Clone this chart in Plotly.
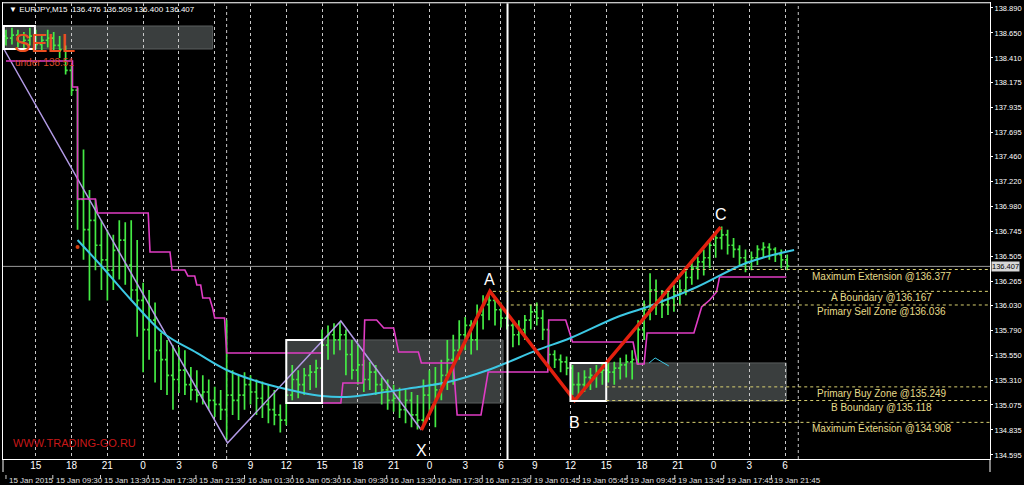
import plotly.graph_objects as go

# ---------------- DATA ----------------
# 30-minute bars (bar index in M15 units)
bar_i = list(range(0, 264, 2))
bar_hi = [138.68, 138.70, 138.68, 138.66, 138.70, 138.68, 138.64, 138.68, 138.66, 138.62,
          138.53, 138.34, 138.12, 137.53, 137.14, 137.05, 136.85, 136.76, 136.71, 136.85,
          136.83, 136.85, 136.66, 136.25, 136.18, 136.06, 135.77, 135.70, 135.65, 135.63,
          135.60, 135.44, 135.41, 135.36, 135.32, 135.25, 135.22, 135.89, 135.41, 135.36,
          135.39, 135.36, 135.32, 135.30, 135.27, 135.22, 135.08, 135.27, 135.46, 135.41,
          135.43, 135.46, 135.51, 135.80, 135.84, 135.86, 135.87, 135.80, 135.70, 135.65,
          135.51, 135.49, 135.46, 135.34, 135.32, 135.27, 135.24, 135.22, 135.20, 135.17,
          135.32, 135.41, 135.44, 135.51, 135.70, 135.75, 135.89, 135.92, 135.89, 136.04,
          136.13, 136.15, 136.10, 136.06, 135.99, 135.86, 135.89, 135.94, 136.04, 136.06,
          135.99, 135.80, 135.60, 135.56, 135.54, 135.46, 135.39, 135.41, 135.43, 135.46,
          135.48, 135.51, 135.49, 135.53, 135.56, 135.60, 135.89, 136.08, 136.34, 136.28,
          136.18, 136.20, 136.23, 136.28, 136.37, 136.47, 136.50, 136.57, 136.66, 136.74,
          136.79, 136.76, 136.68, 136.61, 136.57, 136.55, 136.61, 136.64, 136.63, 136.59,
          136.57, 136.52]
bar_lo = [138.53, 138.54, 138.51, 138.49, 138.53, 138.49, 138.47, 138.51, 138.47, 138.41,
          138.25, 138.05, 136.76, 136.47, 136.08, 136.37, 136.18, 136.08, 136.18, 136.28,
          136.23, 136.08, 135.73, 135.39, 135.51, 135.29, 135.22, 135.17, 135.03, 135.19,
          135.17, 135.12, 135.10, 135.08, 135.03, 134.96, 134.93, 134.74, 134.98, 134.93,
          135.03, 135.08, 134.98, 134.95, 134.90, 134.88, 134.81, 134.88, 135.12, 135.14,
          135.17, 135.22, 135.24, 135.41, 135.51, 135.56, 135.60, 135.36, 135.32, 135.27,
          135.20, 135.22, 135.17, 135.08, 135.03, 135.01, 134.95, 134.90, 134.86, 134.84,
          134.88, 134.98, 134.86, 135.12, 135.22, 135.27, 135.51, 135.60, 135.56, 135.60,
          135.80, 135.89, 135.84, 135.82, 135.80, 135.63, 135.65, 135.70, 135.80, 135.84,
          135.70, 135.41, 135.43, 135.39, 135.36, 135.17, 135.17, 135.20, 135.22, 135.24,
          135.27, 135.29, 135.27, 135.32, 135.34, 135.32, 135.46, 135.70, 135.89, 135.94,
          135.91, 135.94, 135.97, 136.04, 136.13, 136.23, 136.28, 136.32, 136.39, 136.49,
          136.57, 136.52, 136.49, 136.42, 136.35, 136.37, 136.42, 136.49, 136.47, 136.45,
          136.39, 136.37]
bar_cl = [138.60, 138.63, 138.56, 138.58, 138.62, 138.54, 138.58, 138.60, 138.53, 138.49,
          138.29, 138.10, 137.05, 136.76, 136.85, 136.61, 136.47, 136.37, 136.56, 136.66,
          136.42, 136.18, 136.08, 135.80, 135.89, 135.60, 135.51, 135.36, 135.32, 135.41,
          135.27, 135.22, 135.17, 135.20, 135.12, 135.08, 135.03, 135.17, 135.12, 135.17,
          135.27, 135.20, 135.14, 135.08, 135.03, 134.98, 134.93, 135.17, 135.32, 135.27,
          135.36, 135.39, 135.43, 135.65, 135.75, 135.70, 135.75, 135.56, 135.41, 135.46,
          135.32, 135.39, 135.27, 135.22, 135.12, 135.14, 135.03, 135.12, 134.98, 134.93,
          135.17, 135.27, 135.22, 135.36, 135.51, 135.60, 135.75, 135.84, 135.70, 135.94,
          136.04, 136.08, 135.99, 135.91, 135.84, 135.75, 135.80, 135.89, 135.97, 135.91,
          135.80, 135.56, 135.51, 135.49, 135.43, 135.27, 135.27, 135.34, 135.36, 135.39,
          135.41, 135.39, 135.43, 135.46, 135.49, 135.51, 135.80, 135.99, 136.18, 136.08,
          136.04, 136.10, 136.13, 136.18, 136.30, 136.39, 136.45, 136.49, 136.61, 136.68,
          136.71, 136.61, 136.57, 136.49, 136.45, 136.49, 136.57, 136.59, 136.57, 136.52,
          136.47, 136.41]
first_open = 138.62
last_price = 136.407

# XABC harmonic pattern
pat_labels = ["X", "A", "B", "C"]
pat_i = [139.3, 162.3, 190.7, 239.7]
pat_p = [134.835, 136.167, 135.118, 136.785]

# zigzag (purple)
zz_i = [-0.7, 74.3, 112.3, 139.3]
zz_p = [138.496, 134.710, 135.882, 134.835]

# magenta step indicator
mag_i = [0, 22.3, 22.3, 24, 24, 30, 30.7, 47.7, 48.3, 55, 55.7, 60, 61, 63.3, 64, 65.3, 66, 68.3,
         69.3, 70, 73.3, 74, 106, 106, 112.3, 113, 119.7, 120.3, 124.3, 126.7, 130, 131.7, 138.3,
         139.3, 150, 151.3, 159.3, 161.7, 181.7, 182, 187.7, 190, 210.3, 211.7, 214, 215, 230.7,
         233.3, 236, 238.3, 239.3, 261.7]
mag_p = [138.381, 138.381, 138.131, 138.131, 137.055, 137.055, 136.920, 136.920, 136.545, 136.545,
         136.372, 136.372, 136.315, 136.315, 136.228, 136.228, 136.103, 136.103, 136.007, 135.911,
         135.911, 135.575, 135.575, 135.094, 135.094, 135.286, 135.286, 135.892, 135.892, 135.815,
         135.815, 135.584, 135.584, 135.479, 135.479, 134.979, 134.979, 135.392, 135.392, 135.892,
         135.892, 135.680, 135.680, 135.469, 135.469, 135.767, 135.767, 136.017, 136.084, 136.161,
         136.305, 136.305]

# cyan regression curve
cy_i = [24, 31.7, 41.7, 52.7, 64, 74, 86, 98.3, 106, 114, 125, 136, 148.3, 161.7, 178.3, 189.3,
        205, 215, 231.7, 248.3, 264.3]
cy_p = [136.661, 136.420, 136.094, 135.767, 135.575, 135.411, 135.286, 135.200, 135.161, 135.152,
        135.190, 135.238, 135.296, 135.411, 135.604, 135.719, 135.921, 136.017, 136.209, 136.440,
        136.565]
cy2_i = [215.7, 217.7, 222.3]
cy2_p = [135.479, 135.527, 135.450]

# zones (gray) and boxes (white)
zone_i0 = [0, 94, 189.3]
zone_i1 = [69.3, 166.7, 261.7]
zone_top = [138.717, 135.700, 135.479]
zone_bot = [138.496, 135.094, 135.113]
box_i0 = [-0.7, 94, 189.3]
box_i1 = [9.7, 106, 201.3]

# fibonacci levels
lvl_names = ["Maximum Extension", "A Boundary", "Primary Sell Zone",
             "Primary Buy Zone", "B Boundary", "Maximum Extension"]
lvl_price = [136.377, 136.167, 136.036, 135.249, 135.118, 134.908]
lvl_start = [169.3, 163.3, 169.3, 201.3, 201.3, 194.0]

# axes
hour_i = [10, 22, 34, 46, 58, 70, 82, 94, 106, 118, 130, 142, 154, 166,
          177.3, 189.3, 201.3, 213.3, 225.3, 237.3, 249.3, 261.3]
hour_lbl = ["15", "18", "21", "0", "3", "6", "9", "12", "15", "18", "21", "0", "3", "6",
            "9", "12", "15", "18", "21", "0", "3", "6"]
date_i = [0, 15.7, 31.7, 47.7, 63.7, 80, 96, 111.7, 127.7, 143.7, 159.7, 176, 192.3, 208.3,
          224.3, 240.7, 256.7]
date_lbl = ["15 Jan 2015", "15 Jan 09:30", "15 Jan 13:30", "15 Jan 17:30", "15 Jan 21:30",
            "16 Jan 01:30", "16 Jan 05:30", "16 Jan 09:30", "16 Jan 13:30", "16 Jan 17:30",
            "16 Jan 21:30", "19 Jan 01:45", "19 Jan 05:45", "19 Jan 09:45", "19 Jan 13:45",
            "19 Jan 17:45", "19 Jan 21:45"]
price_ticks = [138.890, 138.650, 138.410, 138.175, 137.935, 137.695, 137.460, 137.220, 136.980,
               136.745, 136.505, 136.265, 136.030, 135.790, 135.550, 135.310, 135.075, 134.835,
               134.595]
extra_sep_i = [74, 265.7]
now_sep_i = 168.2

X_RANGE = [-1, 330]
Y_RANGE = [134.556, 138.938]

FONT = "Liberation Sans"
H_PLOT = 456.0


def py(px):
    return (459 - px) / H_PLOT


def pxx(px):
    return (px - 2) / 993.0


fig = go.Figure()

bar_op = [first_open] + bar_cl[:-1]
fig.add_trace(go.Ohlc(
    x=bar_i, open=bar_op, high=bar_hi, low=bar_lo, close=bar_cl,
    increasing=dict(line=dict(color="#44ea44", width=1.7)),
    decreasing=dict(line=dict(color="#44ea44", width=1.7)),
    tickwidth=0.35, hoverinfo="skip"))

fig.add_trace(go.Scatter(x=zz_i, y=zz_p, mode="lines",
                         line=dict(color="#b39be6", width=1.5), hoverinfo="skip"))
fig.add_trace(go.Scatter(x=mag_i, y=mag_p, mode="lines",
                         line=dict(color="#e03cc4", width=1.6), hoverinfo="skip"))
fig.add_trace(go.Scatter(x=cy_i, y=cy_p, mode="lines", line_shape="spline",
                         line=dict(color="#3cc8e4", width=2), hoverinfo="skip"))
fig.add_trace(go.Scatter(x=cy2_i, y=cy2_p, mode="lines",
                         line=dict(color="#3cc8e4", width=1), hoverinfo="skip"))
fig.add_trace(go.Scatter(x=pat_i, y=pat_p, mode="lines",
                         line=dict(color="#e2200e", width=3.5), hoverinfo="skip"))
fig.add_trace(go.Scatter(x=[cy_i[0]], y=[136.593], mode="markers",
                         marker=dict(color="#d44010", size=4), hoverinfo="skip"))

shapes = []
for a, b, t, bt in zip(zone_i0, zone_i1, zone_top, zone_bot):
    shapes.append(dict(type="rect", xref="x", yref="y", x0=a, x1=b, y0=bt, y1=t,
                       fillcolor="#3a3e3e", line=dict(color="#5a5e5e", width=1), layer="below"))
for a, b, t, bt in zip(box_i0, box_i1, zone_top, zone_bot):
    shapes.append(dict(type="rect", xref="x", yref="y", x0=a, x1=b, y0=bt, y1=t,
                       line=dict(color="white", width=2), layer="above"))
for xi in extra_sep_i:
    shapes.append(dict(type="line", xref="x", yref="paper", x0=xi, x1=xi, y0=0, y1=1,
                       line=dict(color="#c8c8c8", width=1, dash="3px,3px"), layer="below"))
shapes.append(dict(type="line", xref="x", yref="paper", x0=now_sep_i, x1=now_sep_i, y0=0, y1=1,
                   line=dict(color="white", width=2)))
shapes.append(dict(type="line", xref="paper", yref="y", x0=0, x1=1, y0=last_price, y1=last_price,
                   line=dict(color="#9a9a9a", width=1), layer="below"))
for p, s in zip(lvl_price, lvl_start):
    shapes.append(dict(type="line", xref="x", yref="y", x0=s, x1=X_RANGE[1], y0=p, y1=p,
                       line=dict(color="#d8d070", width=1, dash="3px,3px")))
for xi in date_i:
    shapes.append(dict(type="line", xref="x", yref="paper", x0=xi, x1=xi, y0=py(475), y1=py(479),
                       line=dict(color="#d0d0d0", width=1)))
# border extensions into the time-label strip
shapes.append(dict(type="line", xref="paper", yref="paper", x0=1, x1=1, y0=py(472), y1=0,
                   line=dict(color="white", width=1)))
shapes.append(dict(type="line", xref="paper", yref="paper", x0=0, x1=0, y0=py(472), y1=0,
                   line=dict(color="white", width=1)))
# top frame in gray
shapes.append(dict(type="line", xref="paper", yref="paper", x0=0, x1=1, y0=1, y1=1,
                   line=dict(color="#8a8a8a", width=1)))

ann = []
for n, p in zip(lvl_names, lvl_price):
    ann.append(dict(x=pxx(886), xref="paper", y=p, yref="y", text=f"{n} @{p:.3f}",
                    showarrow=False, xanchor="center", yanchor="top", yshift=1,
                    font=dict(family=FONT, size=10, color="#e6dc8a")))
shifts = {"X": ("top", -10), "A": ("bottom", 1), "B": ("top", -11), "C": ("bottom", 2)}
for lbl, xi, p in zip(pat_labels, pat_i, pat_p):
    ya, ys = shifts[lbl]
    ann.append(dict(x=xi, y=p, xref="x", yref="y", text=lbl, showarrow=False,
                    yanchor=ya, yshift=ys, font=dict(family=FONT, size=16, color="white")))
for xi, t in zip(date_i, date_lbl):
    ann.append(dict(x=xi, xref="x", y=py(480), yref="paper", text=t, showarrow=False,
                    xanchor="left", yanchor="middle", xshift=1,
                    font=dict(family=FONT, size=8, color="#e0e0e0")))
ann.append(dict(x=1, xref="paper", y=last_price, yref="y", text=f"{last_price:.3f}",
                showarrow=False, xanchor="left", xshift=1, bgcolor="#d8d8d8", borderpad=0,
                font=dict(family=FONT, size=7.5, color="black")))
ann.append(dict(x=pxx(6), xref="paper", y=py(9), yref="paper",
                text="\u25BC EURJPY,M15  136.476 136.509 136.400 136.407",
                showarrow=False, xanchor="left", yanchor="middle",
                font=dict(family=FONT, size=8, color="white")))
ann.append(dict(x=pxx(11), xref="paper", y=py(43), yref="paper", text="SELL",
                showarrow=False, xanchor="left", yanchor="middle",
                font=dict(family=FONT, size=25, color="#ea5020")))
ann.append(dict(x=pxx(12), xref="paper", y=py(62), yref="paper", text="under 138.51",
                showarrow=False, xanchor="left", yanchor="middle",
                font=dict(family=FONT, size=10, color="#d84a28")))
ann.append(dict(x=pxx(10), xref="paper", y=py(443), yref="paper", text="WWW.TRADING-GO.RU",
                showarrow=False, xanchor="left", yanchor="middle",
                font=dict(family=FONT, size=11, color="#c81818")))

fig.update_layout(
    width=1024, height=485,
    margin=dict(l=2, r=29, t=3, b=26),
    paper_bgcolor="black", plot_bgcolor="black",
    showlegend=False, shapes=shapes, annotations=ann,
    xaxis=dict(range=X_RANGE, tickvals=hour_i, ticktext=hour_lbl, showgrid=True,
               gridcolor="#c8c8c8", griddash="3px,3px", gridwidth=1, ticks="",
               ticklabelstandoff=-3,
               tickfont=dict(family=FONT, size=10, color="white"), zeroline=False,
               showline=True, linecolor="white", linewidth=1, mirror=True,
               rangeslider=dict(visible=False), fixedrange=True),
    yaxis=dict(range=Y_RANGE, side="right", tickvals=price_ticks,
               ticktext=[f"{v:.3f}" for v in price_ticks], showgrid=False, zeroline=False,
               ticks="outside", ticklen=2, tickcolor="white",
               tickfont=dict(family=FONT, size=7.5, color="white"),
               showline=True, linecolor="white", linewidth=1, mirror=True, fixedrange=True),
)

fig.write_html("out.html", config={"displayModeBar": False},
               post_script="document.body.style.margin='0px';document.body.style.overflow='hidden';")
